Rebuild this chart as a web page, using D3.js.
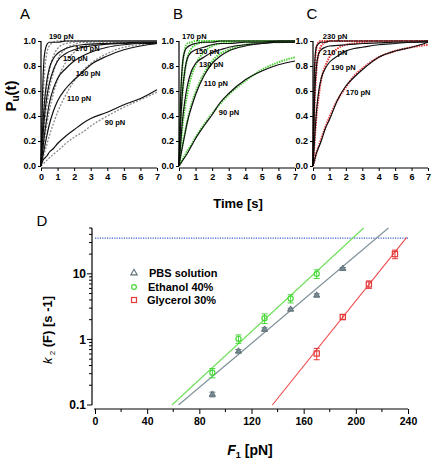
<!DOCTYPE html>
<html><head><meta charset="utf-8">
<script src="https://cdn.jsdelivr.net/npm/d3@7"></script>
<style>body{margin:0;background:#fff}svg{display:block}</style>
</head><body><svg id="c" width="433" height="462"></svg>
<script>
// ---------- data: top panels (survival probability vs time) ----------
const times = [0, 0.1, 0.2, 0.35, 0.5, 0.75, 1, 1.5, 2, 2.5, 3, 4, 5, 6, 7];

const forcesA = ["190 pN","170 pN","150 pN","130 pN","110 pN","90 pN"];
const measuredA = [
  [0,0.6,0.88,0.97,0.99,0.99,0.99,1,1,1,1,1,1,1,1],
  [0,0.3,0.5,0.68,0.78,0.86,0.9,0.94,0.96,0.97,0.975,0.98,0.985,0.99,0.99],
  [0,0.2,0.38,0.55,0.66,0.77,0.84,0.9,0.93,0.95,0.96,0.975,0.98,0.985,0.99],
  [0,0.12,0.24,0.38,0.5,0.62,0.7,0.78,0.84,0.88,0.91,0.95,0.97,0.98,0.98],
  [0,0.07,0.14,0.24,0.33,0.44,0.52,0.62,0.69,0.75,0.81,0.88,0.93,0.96,0.98],
  [0,0.04,0.06,0.08,0.11,0.14,0.18,0.24,0.29,0.34,0.38,0.43,0.49,0.54,0.61]
];
const fitA = [
  [0,0.45,0.72,0.9,0.96,0.99,1,1,1,1,1,1,1,1,1],
  [0,0.25,0.45,0.63,0.76,0.88,0.94,0.98,0.99,1,1,1,1,1,1],
  [0,0.17,0.32,0.48,0.61,0.75,0.85,0.94,0.97,0.99,0.99,1,1,1,1],
  [0,0.1,0.2,0.33,0.44,0.58,0.69,0.83,0.91,0.95,0.97,0.99,0.99,1,1],
  [0,0.05,0.1,0.17,0.24,0.34,0.43,0.57,0.68,0.76,0.82,0.9,0.95,0.97,0.98],
  [0,0.013,0.026,0.045,0.064,0.094,0.12,0.18,0.23,0.27,0.32,0.4,0.47,0.53,0.59]
];
const labelTA = [0.48, 2.05, 1.33, 2.1, 1.57, 3.85];
const labelPA = [1.02, 0.92, 0.84, 0.72, 0.52, 0.33];

const forcesB = ["170 pN","150 pN","130 pN","110 pN","90 pN"];
const measuredB = [
  [0,0.55,0.8,0.92,0.95,0.97,0.98,0.99,0.99,1,1,1,1,1,1],
  [0,0.35,0.58,0.76,0.86,0.91,0.93,0.95,0.97,0.98,0.98,0.99,0.99,1,1],
  [0,0.18,0.35,0.52,0.64,0.76,0.82,0.87,0.91,0.93,0.95,0.97,0.98,0.99,0.99],
  [0,0.08,0.15,0.25,0.35,0.47,0.57,0.72,0.82,0.88,0.92,0.96,0.98,0.99,0.99],
  [0,0.02,0.04,0.07,0.1,0.16,0.22,0.32,0.41,0.51,0.58,0.69,0.76,0.81,0.84]
];
const fitB = [
  [0,0.5,0.78,0.93,0.98,0.99,1,1,1,1,1,1,1,1,1],
  [0,0.33,0.55,0.75,0.86,0.94,0.97,0.99,1,1,1,1,1,1,1],
  [0,0.16,0.3,0.46,0.58,0.72,0.81,0.91,0.96,0.98,0.99,1,1,1,1],
  [0,0.08,0.16,0.26,0.36,0.49,0.59,0.74,0.84,0.9,0.93,0.97,0.99,0.99,1],
  [0,0.025,0.05,0.085,0.12,0.17,0.23,0.33,0.42,0.5,0.57,0.68,0.77,0.83,0.87]
];
const labelTB = [0.18, 0.96, 1.2, 1.5, 2.4];
const labelPB = [1.02, 0.9, 0.79, 0.64, 0.41];

const forcesC = ["230 pN","210 pN","190 pN","170 pN"];
const measuredC = [
  [0,0.8,0.95,0.98,0.99,0.99,1,1,1,1,1,1,1,1,1],
  [0,0.55,0.78,0.9,0.93,0.95,0.96,0.965,0.97,0.975,0.98,0.985,0.99,0.99,1],
  [0,0.22,0.42,0.6,0.7,0.78,0.83,0.88,0.92,0.94,0.95,0.97,0.98,0.99,0.99],
  [0,0.05,0.1,0.15,0.2,0.3,0.37,0.53,0.64,0.71,0.77,0.87,0.92,0.95,0.99]
];
const fitC = [
  [0,0.75,0.94,0.99,1,1,1,1,1,1,1,1,1,1,1],
  [0,0.5,0.75,0.9,0.96,0.99,1,1,1,1,1,1,1,1,1],
  [0,0.2,0.38,0.56,0.69,0.8,0.87,0.94,0.97,0.98,0.99,1,1,1,1],
  [0,0.05,0.1,0.16,0.22,0.31,0.39,0.53,0.63,0.72,0.78,0.87,0.92,0.95,0.97]
];
const labelTC = [0.6, 0.6, 1.1, 2.0];
const labelPC = [1.02, 0.89, 0.77, 0.57];

const timeTicks = [0,1,2,3,4,5,6,7];
const probTicks = [0,0.2,0.4,0.6,0.8,1.0];

// ---------- data: panel D (rate vs force) ----------
const seriesNames = ["PBS solution","Ethanol 40%","Glycerol 30%"];
const pbsF = [90,110,130,150,170,190];
const pbsK = [0.145,0.66,1.42,2.87,4.7,12];
const pbsErr = [0.012,0.04,0.08,0.12,0.25,0.5];
const ethF = [90,110,130,150,170];
const ethK = [0.31,1.02,2.1,4.2,10];
const ethErr = [0.05,0.15,0.35,0.6,1.5];
const glyF = [170,190,210,230];
const glyK = [0.61,2.2,6.9,20];
const glyErr = [0.12,0.2,0.9,3];
// fitted lines (end points)
const fitLineF = [[64,225],[59,206],[136,239]];
const fitLineK = [[0.1,50],[0.1,50],[0.1,36]];
const refRate = 35;
const forceTicks = [0,40,80,120,160,200,240];
const rateTicks = [0.1,1,10];

// ---------- drawing ----------
const svg = d3.select("#c");
const FONT = "Liberation Sans, Arial, sans-serif";

function topPanel(x0, x1, letter, letterX, measured, fit, forces, lt, lp, fitColor, fitWidth, fitDash) {
  const x = d3.scaleLinear().domain([0,7]).range([x0,x1]);
  const y = d3.scaleLinear().domain([0,1]).range([166,41]);
  const g = svg.append("g");
  const line = d3.line().x((d,i)=>x(times[i])).y(d=>y(d)).curve(d3.curveMonotoneX);
  fit.forEach(s => g.append("path").attr("d", line(s)).attr("fill","none")
    .attr("stroke", fitColor).attr("stroke-width", fitWidth).attr("stroke-dasharray", fitDash));
  measured.forEach(s => g.append("path").attr("d", line(s)).attr("fill","none")
    .attr("stroke", "#111").attr("stroke-width", 1.2));
  // axes
  const ya = g.append("g").attr("transform", `translate(${x0},0)`)
    .call(d3.axisLeft(y).tickValues(probTicks).tickFormat(d3.format(".1f")).tickSize(3).tickPadding(2));
  const xa = g.append("g").attr("transform", `translate(0,168)`)
    .call(d3.axisBottom(x).tickValues(timeTicks).tickFormat(d3.format("d")).tickSize(3).tickPadding(3));
  [ya, xa].forEach(a => {
    a.select(".domain").attr("stroke","#000").attr("stroke-width",1.2);
    a.selectAll(".tick line").attr("stroke","#000").attr("stroke-width",1);
    a.selectAll("text").attr("font-family", FONT).attr("font-weight","bold")
      .attr("font-size", 9).attr("fill","#000").style("font-stretch","condensed");
  });
  ya.select(".domain").attr("d", `M-0,${y(1)}V${y(0)}`);
  xa.select(".domain").attr("d", `M${x(0)},0H${x(7)}`);
  forces.forEach((f,i) => g.append("text").attr("x", x(lt[i])).attr("y", y(lp[i]))
    .attr("font-family", FONT).attr("font-weight","bold").attr("font-size", 7.5).text(f));
  svg.append("text").attr("x", letterX).attr("y", 19).attr("text-anchor","middle").attr("font-family", FONT)
    .attr("font-size", 15).text(letter);
}

topPanel(41,157,"A",25,measuredA,fitA,forcesA,labelTA,labelPA,"#8a8a8a",1.3,"2,1.5");
topPanel(179,295,"B",178,measuredB,fitB,forcesB,labelTB,labelPB,"#4fd13a",2,"1.5,1");
topPanel(313,428,"C",312,measuredC,fitC,forcesC,labelTC,labelPC,"#e8363a",2,"1.5,1");

// Pu(t) label
const pu = svg.append("text").attr("transform","translate(16,96) rotate(-90)")
  .attr("text-anchor","middle").attr("font-family",FONT).attr("font-weight","bold").attr("font-size",15);
pu.append("tspan").text("P");
pu.append("tspan").attr("font-size",10).attr("dy",3).text("u");
pu.append("tspan").attr("dy",-3).text("(t)");

svg.append("text").attr("x",238).attr("y",208).attr("text-anchor","middle")
  .attr("font-family",FONT).attr("font-weight","bold").attr("font-size",13).text("Time [s]");

// ---------- panel D ----------
const xD = d3.scaleLinear().domain([0,240]).range([95,408]);
const yD = d3.scaleLog().domain([0.1,50]).range([405,228]);
const gD = svg.append("g");

svg.append("text").attr("x",42).attr("y",226).attr("text-anchor","middle").attr("font-family",FONT).attr("font-size",15).text("D");

// reference line
gD.append("line").attr("x1",xD(0)).attr("x2",xD(240)).attr("y1",yD(refRate)).attr("y2",yD(refRate))
  .attr("stroke","#3a5fd0").attr("stroke-width",1.3).attr("stroke-dasharray","1.2,1.2");

const colors = ["#5d7078","#49d83a","#e43a3a"];
const lineColors = ["#7f9098","#6ee05a","#ee4a4a"];
fitLineF.forEach((fs,i) => gD.append("line")
  .attr("x1",xD(fs[0])).attr("x2",xD(fs[1])).attr("y1",yD(fitLineK[i][0])).attr("y2",yD(fitLineK[i][1]))
  .attr("stroke",lineColors[i]).attr("stroke-width",1.1));

function errBars(F,K,E,col){
  F.forEach((f,i)=>{
    const cx = xD(f), yt = yD(K[i]+E[i]), yb = yD(Math.max(K[i]-E[i],0.101));
    gD.append("line").attr("x1",cx).attr("x2",cx).attr("y1",yt).attr("y2",yb).attr("stroke",col).attr("stroke-width",1);
    [yt,yb].forEach(yy=>gD.append("line").attr("x1",cx-3).attr("x2",cx+3).attr("y1",yy).attr("y2",yy).attr("stroke",col).attr("stroke-width",1));
  });
}
errBars(pbsF,pbsK,pbsErr,colors[0]);
errBars(ethF,ethK,ethErr,colors[1]);
errBars(glyF,glyK,glyErr,colors[2]);

const tri = d3.symbol().type(d3.symbolTriangle).size(16);
pbsF.forEach((f,i)=>gD.append("path").attr("d",tri()).attr("transform",`translate(${xD(f)},${yD(pbsK[i])})`)
  .attr("fill","#7a8a92").attr("stroke",colors[0]).attr("stroke-width",1));
ethF.forEach((f,i)=>gD.append("circle").attr("cx",xD(f)).attr("cy",yD(ethK[i])).attr("r",2.6)
  .attr("fill","none").attr("stroke",colors[1]).attr("stroke-width",1.2));
glyF.forEach((f,i)=>gD.append("rect").attr("x",xD(f)-2.6).attr("y",yD(glyK[i])-2.6).attr("width",5.2).attr("height",5.2)
  .attr("fill","none").attr("stroke",colors[2]).attr("stroke-width",1.2));

// axes D
const yTicksAll = [];
for (let d=-1; d<=1; d++) for (let m=1; m<=9; m++) { const v = m*Math.pow(10,d); if (v<=50) yTicksAll.push(+v.toPrecision(2)); }
const yAxG = gD.append("g").attr("transform","translate(92,0)");
yAxG.append("line").attr("x1",0).attr("x2",0).attr("y1",yD(50)).attr("y2",yD(0.1)).attr("stroke","#000").attr("stroke-width",1.2);
yTicksAll.forEach(v=>{
  const major = rateTicks.includes(v);
  yAxG.append("line").attr("x1",major?-5:-3).attr("x2",0).attr("y1",yD(v)).attr("y2",yD(v)).attr("stroke","#000").attr("stroke-width",1);
});
rateTicks.forEach(v=>yAxG.append("text").attr("x",-6).attr("y",yD(v)).attr("dy","0.35em").attr("text-anchor","end")
  .attr("font-family",FONT).attr("font-weight","bold").attr("font-size",12).text(v));

const xAx = gD.append("g").attr("transform","translate(0,409)")
  .call(d3.axisBottom(xD).tickValues(forceTicks).tickFormat(d3.format("d")).tickSize(5).tickPadding(4));
xAx.select(".domain").attr("d",`M${xD(0)-1},0H${xD(240)}`).attr("stroke","#000").attr("stroke-width",1.2);
xAx.selectAll(".tick line").attr("stroke","#000");
xAx.selectAll("text").attr("font-family",FONT).attr("font-weight","bold").attr("font-size",10.5).attr("fill","#000");
d3.range(20,240,40).forEach(v=>xAx.append("line").attr("x1",xD(v)).attr("x2",xD(v)).attr("y1",0).attr("y2",3).attr("stroke","#000"));

// legend
const legY = [273,287,300];
const lg = gD.append("g");
lg.append("path").attr("d",d3.symbol().type(d3.symbolTriangle).size(18)()).attr("transform",`translate(134,${legY[0]})`)
  .attr("fill","none").attr("stroke",colors[0]).attr("stroke-width",1.1);
lg.append("circle").attr("cx",134).attr("cy",legY[1]).attr("r",2.4).attr("fill","none").attr("stroke",colors[1]).attr("stroke-width",1.2);
lg.append("rect").attr("x",131.5).attr("y",legY[2]-2.5).attr("width",5).attr("height",5).attr("fill","none").attr("stroke",colors[2]).attr("stroke-width",1.2);
seriesNames.forEach((n,i)=>lg.append("text").attr("x",[149,148,147][i]).attr("y",legY[i]).attr("dy","0.35em")
  .attr("font-family",FONT).attr("font-weight","bold").attr("font-size",11).text(n));

// axis titles D
const xt = svg.append("text").attr("x",250).attr("y",455).attr("text-anchor","middle")
  .attr("font-family",FONT).attr("font-weight","bold").attr("font-size",14);
xt.append("tspan").attr("font-style","italic").text("F");
xt.append("tspan").attr("font-size",9).attr("dy",3).text("1");
xt.append("tspan").attr("dy",-3).text(" [pN]");

const yt = svg.append("text").attr("transform","translate(52,330) rotate(-90)").attr("text-anchor","middle")
  .attr("font-family",FONT).attr("font-size",13);
yt.append("tspan").attr("font-style","italic").text("k");
yt.append("tspan").attr("font-size",8).attr("dy",3).text(" 2");
yt.append("tspan").attr("dy",-3).attr("font-weight","bold").text(" (F)  [s -1]");
</script></body></html>
